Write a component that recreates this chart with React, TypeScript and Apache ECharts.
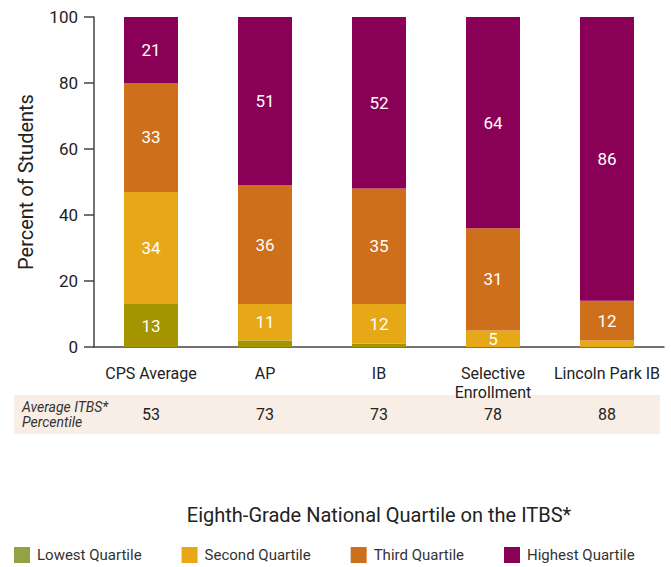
import React, { useEffect, useRef } from "react";
import * as echarts from "echarts";

const categories = ["CPS Average", "AP", "IB", "Selective\nEnrollment", "Lincoln Park IB"];
const seriesNames = ["Lowest Quartile", "Second Quartile", "Third Quartile", "Highest Quartile"];
const lowest = [13, 2, 1, 0, 0];
const second = [34, 11, 12, 5, 2];
const third = [33, 36, 35, 31, 12];
const highest = [21, 51, 52, 64, 86];
const itbsPercentile = [53, 73, 73, 78, 88];
const yTicks = { min: 0, max: 100, interval: 20 };

const barColors = ["#A39400", "#E6A817", "#CE6F1C", "#8B0057"];
const legendColors = ["#93A342", "#E6A817", "#CE6F1C", "#8B0057"];
const FONT = "Roboto, sans-serif";

export default function App() {
  const ref = useRef<HTMLDivElement>(null);
  useEffect(() => {
    document.body.style.margin = "0";
    const chart = echarts.init(ref.current!, null, { renderer: "svg" });
    const values = [lowest, second, third, highest];
    chart.setOption({
      animation: false,
      textStyle: { fontFamily: FONT },
      grid: { left: 94, right: 7, top: 17, bottom: 220 },
      xAxis: [
        {
          type: "category",
          data: categories,
          axisLine: { lineStyle: { color: "#444", width: 1.5 } },
          axisTick: { length: 10, lineStyle: { color: "#444", width: 1.5 } },
          axisLabel: { interval: 0, color: "#222", fontSize: 16, margin: 17, lineHeight: 19, fontFamily: FONT },
          name: "Eighth-Grade National Quartile on the ITBS*",
          nameLocation: "middle",
          nameGap: 158,
          nameTextStyle: { color: "#222", fontSize: 20, fontFamily: FONT },
        },
        {
          type: "category",
          gridIndex: 0,
          position: "bottom",
          offset: 51,
          data: itbsPercentile.map(String),
          axisLine: { show: false },
          axisTick: { show: false },
          axisLabel: { interval: 0, color: "#222", fontSize: 16, margin: 8, fontFamily: FONT },
        },
      ],
      yAxis: {
        type: "value",
        min: yTicks.min,
        max: yTicks.max,
        interval: yTicks.interval,
        splitLine: { show: false },
        axisLine: { show: true, lineStyle: { color: "#444", width: 1.5 } },
        axisTick: { show: true, length: 10, lineStyle: { color: "#444", width: 1.5 } },
        axisLabel: { color: "#222", fontSize: 17, margin: 16, fontFamily: FONT },
        name: "Percent of Students",
        nameLocation: "middle",
        nameGap: 58,
        nameTextStyle: { color: "#222", fontSize: 20, fontFamily: FONT },
      },
      legend: {
        left: 14,
        top: 547,
        padding: 0,
        itemWidth: 16,
        itemHeight: 16,
        itemGap: 40,
        icon: "rect",
        textStyle: { color: "#333", fontSize: 15, fontFamily: FONT, padding: [0, 0, 0, 2] },
        data: seriesNames.map((n, i) => ({ name: n, itemStyle: { color: legendColors[i] } })),
      },
      graphic: [
        {
          type: "rect",
          left: 14,
          top: 395,
          z: -10,
          shape: { width: 646, height: 39 },
          style: { fill: "#F9EEE5" },
        },
        {
          type: "text",
          left: 22,
          top: 399,
          style: {
            text: "Average ITBS*\nPercentile",
            fill: "#333",
            font: `italic 14px ${FONT}`,
            lineHeight: 15,
          },
        },
      ],
      series: values.map((v, i) => ({
        name: seriesNames[i],
        type: "bar",
        stack: "total",
        barWidth: 54,
        data: v,
        itemStyle: { color: barColors[i] },
        label: {
          show: true,
          position: "inside",
          color: "#fff",
          fontSize: 17,
          fontFamily: FONT,
          formatter: (p: any) => (p.value >= 5 ? String(p.value) : ""),
        },
      })),
    });
    return () => chart.dispose();
  }, []);
  return <div ref={ref} style={{ width: 671, height: 567 }} />;
}
